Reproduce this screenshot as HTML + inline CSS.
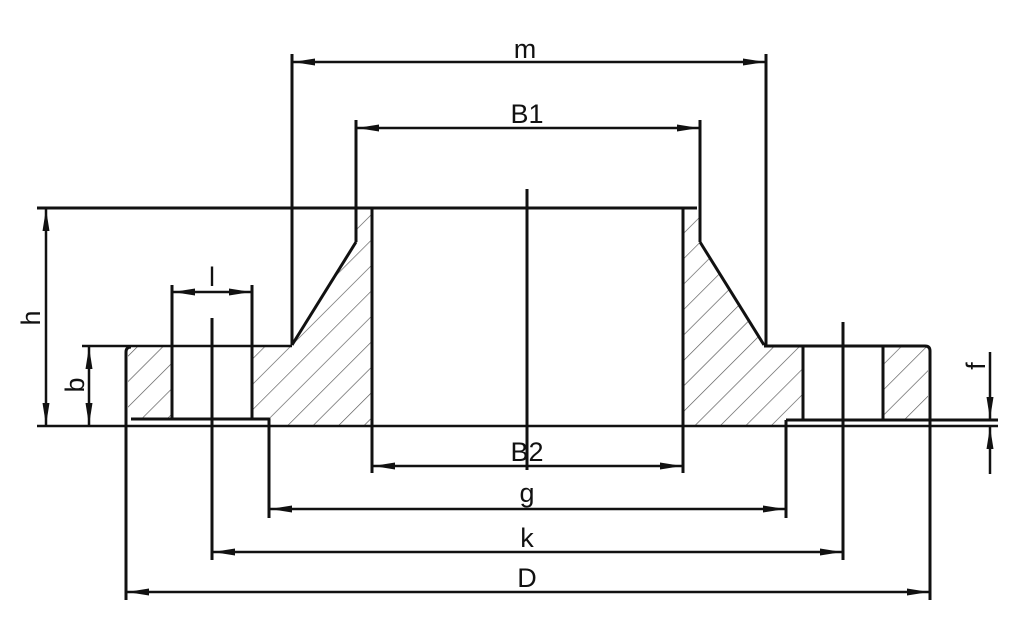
<!DOCTYPE html>
<html><head><meta charset="utf-8"><style>html,body{margin:0;padding:0;background:#fff}svg{display:block}</style></head><body>
<svg width="1024" height="644" viewBox="0 0 1024 644" xmlns="http://www.w3.org/2000/svg">
<defs>
<pattern id="h" patternUnits="userSpaceOnUse" width="18" height="18" patternTransform="rotate(45)">
<line x1="0" y1="0" x2="0" y2="18" stroke="#555" stroke-width="1.3"/>
</pattern>
<marker id="a" markerWidth="22" markerHeight="8" refX="22" refY="4" orient="auto-start-reverse" markerUnits="userSpaceOnUse">
<path d="M0,0.5 L22,4 L0,7.5 Z" fill="#111"/></marker>
</defs>
<g fill="url(#h)" stroke="none">
<path d="M128,347 L172,347 L172,419 L128,419 Z"/>
<path d="M252,347 L292,347 L356,242 L356,210 L372,210 L372,426 L269,426 L269,419 L252,419 Z"/>
<path d="M683,210 L698,210 L700,242 L764,345 L803,345 L803,420 L786,420 L786,426 L683,426 Z"/>
<path d="M883,347 L928,347 L928,419 L883,419 Z"/>
</g>
<g stroke="#111" stroke-width="3" fill="none" stroke-linejoin="round">
<line x1="37" y1="208" x2="697" y2="208"/>
<line x1="37" y1="426" x2="998" y2="426" stroke-width="2.5"/>
<line x1="372" y1="208" x2="372" y2="473"/>
<line x1="683" y1="208" x2="683" y2="473"/>
<line x1="356" y1="120" x2="356" y2="242"/>
<line x1="356" y1="242" x2="292" y2="345"/>
<line x1="700" y1="120" x2="700" y2="242"/>
<line x1="700" y1="242" x2="764" y2="345"/>
<line x1="292" y1="54" x2="292" y2="345"/>
<line x1="766" y1="54" x2="766" y2="345"/>
<line x1="82" y1="346" x2="292" y2="346" stroke-width="2.5"/>
<path d="M764,346 L925,346 Q930,346 930,351 L930,420"/>
<path d="M126,600 L126,352 Q126,347 131,347"/>
<path d="M131,419 L269,419 L269,518"/>
<line x1="786" y1="420" x2="998" y2="420"/>
<line x1="786" y1="420" x2="786" y2="518"/>
<line x1="930" y1="420" x2="930" y2="600"/>
<line x1="172" y1="285" x2="172" y2="419"/>
<line x1="252" y1="285" x2="252" y2="419"/>
<line x1="803" y1="346" x2="803" y2="420"/>
<line x1="883" y1="346" x2="883" y2="420"/>
<line x1="212" y1="318" x2="212" y2="560"/>
<line x1="843" y1="322" x2="843" y2="560"/>
<line x1="527" y1="189" x2="527" y2="470"/>
</g>
<g stroke="#111" stroke-width="2.5" fill="none">
<line x1="293" y1="62" x2="765" y2="62" marker-start="url(#a)" marker-end="url(#a)"/>
<line x1="357" y1="128" x2="699" y2="128" marker-start="url(#a)" marker-end="url(#a)"/>
<line x1="46" y1="209" x2="46" y2="425" marker-start="url(#a)" marker-end="url(#a)"/>
<line x1="89" y1="347" x2="89" y2="425" marker-start="url(#a)" marker-end="url(#a)"/>
<line x1="173" y1="292" x2="251" y2="292" marker-start="url(#a)" marker-end="url(#a)"/>
<line x1="373" y1="466" x2="682" y2="466" marker-start="url(#a)" marker-end="url(#a)"/>
<line x1="270" y1="509" x2="785" y2="509" marker-start="url(#a)" marker-end="url(#a)"/>
<line x1="213" y1="552" x2="842" y2="552" marker-start="url(#a)" marker-end="url(#a)"/>
<line x1="127" y1="592" x2="929" y2="592" marker-start="url(#a)" marker-end="url(#a)"/>
<line x1="990" y1="352" x2="990" y2="419" marker-end="url(#a)"/>
<line x1="990" y1="474" x2="990" y2="427" marker-end="url(#a)"/>
</g>
<g font-family="Liberation Sans, sans-serif" font-size="27" fill="#111" text-anchor="middle">
<text x="525" y="58">m</text>
<text x="527" y="123">B1</text>
<text x="527" y="461">B2</text>
<text x="527" y="502">g</text>
<text x="527" y="547">k</text>
<text x="527" y="587">D</text>
<text x="212" y="286">l</text>
<text transform="translate(40,318) rotate(-90)">h</text>
<text transform="translate(84,385) rotate(-90)">b</text>
<text transform="translate(985,366) rotate(-90)">f</text>
</g>
</svg>
</body></html>
